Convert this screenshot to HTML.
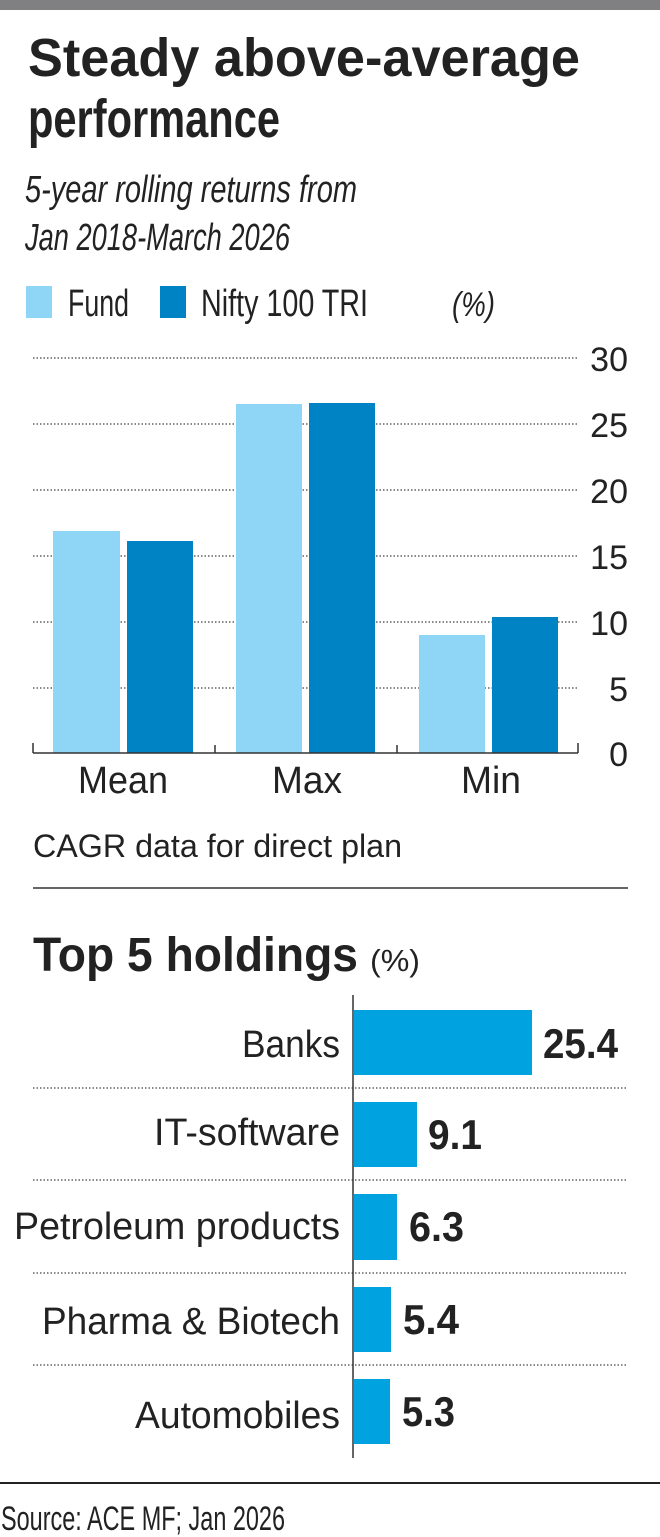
<!DOCTYPE html>
<html><head><meta charset="utf-8"><style>html,body{margin:0;padding:0;background:#fff}svg{display:block}</style></head>
<body>
<svg width="660" height="1537" viewBox="0 0 660 1537" xmlns="http://www.w3.org/2000/svg" font-family="'Liberation Sans Narrow','Liberation Sans',sans-serif" fill="#222">
<rect x="0" y="0" width="660" height="10" fill="#808083"/>
<text x="28" y="76" font-size="54" font-weight="bold" textLength="552" lengthAdjust="spacingAndGlyphs">Steady above-average</text>
<text x="28" y="137" font-size="54" font-weight="bold" textLength="252" lengthAdjust="spacingAndGlyphs">performance</text>
<text x="25" y="202" font-size="38" font-style="italic" textLength="332" lengthAdjust="spacingAndGlyphs">5-year rolling returns from</text>
<text x="25" y="250" font-size="38" font-style="italic" textLength="265" lengthAdjust="spacingAndGlyphs">Jan 2018-March 2026</text>
<rect x="26" y="286" width="26" height="32" fill="#8fd5f5"/>
<text x="68" y="316" font-size="38" textLength="61" lengthAdjust="spacingAndGlyphs">Fund</text>
<rect x="160" y="286" width="26" height="32" fill="#0083c4"/>
<text x="201" y="316" font-size="38" textLength="167" lengthAdjust="spacingAndGlyphs">Nifty 100 TRI</text>
<text x="452" y="316" font-size="34" font-style="italic" textLength="43" lengthAdjust="spacingAndGlyphs">(%)</text>
<g stroke="#444" stroke-width="1.3" stroke-dasharray="1.5 2">
<line x1="33" y1="358" x2="578" y2="358"/><line x1="33" y1="424" x2="578" y2="424"/><line x1="33" y1="490" x2="578" y2="490"/><line x1="33" y1="556" x2="578" y2="556"/><line x1="33" y1="622" x2="578" y2="622"/><line x1="33" y1="688" x2="578" y2="688"/>
</g>
<g font-size="34" text-anchor="end">
<text x="628" y="371">30</text><text x="628" y="437">25</text><text x="628" y="503">20</text><text x="628" y="569">15</text><text x="628" y="635">10</text><text x="628" y="701">5</text><text x="628" y="766">0</text>
</g>
<rect x="53" y="531" width="67" height="222" fill="#8fd5f5"/>
<rect x="127" y="541" width="66" height="212" fill="#0083c4"/>
<rect x="236" y="404" width="66" height="349" fill="#8fd5f5"/>
<rect x="309" y="403" width="66" height="350" fill="#0083c4"/>
<rect x="419" y="635" width="66" height="118" fill="#8fd5f5"/>
<rect x="492" y="617" width="66" height="136" fill="#0083c4"/>
<g stroke="#333" stroke-width="1.5">
<line x1="33" y1="753" x2="578" y2="753"/>
<line x1="33" y1="743" x2="33" y2="753"/><line x1="215" y1="745" x2="215" y2="753"/><line x1="397" y1="745" x2="397" y2="753"/><line x1="578" y1="743" x2="578" y2="753"/>
</g>
<g font-size="38" lengthAdjust="spacingAndGlyphs">
<text x="78" y="793" textLength="90" lengthAdjust="spacingAndGlyphs">Mean</text><text x="272" y="793" textLength="70" lengthAdjust="spacingAndGlyphs">Max</text><text x="461" y="793" textLength="60" lengthAdjust="spacingAndGlyphs">Min</text>
</g>
<text x="33" y="857" font-size="32" textLength="369" lengthAdjust="spacingAndGlyphs">CAGR  data for direct plan</text>
<line x1="33" y1="888" x2="628" y2="888" stroke="#333" stroke-width="1.5"/>
<text x="33" y="971" font-size="48" font-weight="bold" textLength="325" lengthAdjust="spacingAndGlyphs">Top 5 holdings</text>
<text x="370" y="971" font-size="31" textLength="50" lengthAdjust="spacingAndGlyphs">(%)</text>
<g stroke="#444" stroke-width="1.3" stroke-dasharray="1.5 2">
<line x1="33" y1="1088" x2="628" y2="1088"/><line x1="33" y1="1180" x2="628" y2="1180"/><line x1="33" y1="1273" x2="628" y2="1273"/><line x1="33" y1="1365" x2="628" y2="1365"/>
</g>
<line x1="353" y1="995" x2="353" y2="1458" stroke="#333" stroke-width="1.5"/>
<g fill="#00a3e0">
<rect x="354" y="1010" width="178" height="65"/>
<rect x="354" y="1102" width="63" height="65"/>
<rect x="354" y="1194" width="43" height="66"/>
<rect x="354" y="1287" width="37" height="65"/>
<rect x="354" y="1379" width="36" height="65"/>
</g>
<g font-size="38">
<text x="242" y="1057" textLength="98" lengthAdjust="spacingAndGlyphs">Banks</text>
<text x="154" y="1145" textLength="186" lengthAdjust="spacingAndGlyphs">IT-software</text>
<text x="14" y="1239" textLength="326" lengthAdjust="spacingAndGlyphs">Petroleum products</text>
<text x="42" y="1334" textLength="298" lengthAdjust="spacingAndGlyphs">Pharma &amp; Biotech</text>
<text x="135" y="1428" textLength="205" lengthAdjust="spacingAndGlyphs">Automobiles</text>
</g>
<g font-size="42" font-weight="bold">
<text x="543" y="1058" textLength="75" lengthAdjust="spacingAndGlyphs">25.4</text>
<text x="428" y="1149" textLength="54" lengthAdjust="spacingAndGlyphs">9.1</text>
<text x="409" y="1241" textLength="55" lengthAdjust="spacingAndGlyphs">6.3</text>
<text x="403" y="1334" textLength="56" lengthAdjust="spacingAndGlyphs">5.4</text>
<text x="402" y="1426" textLength="53" lengthAdjust="spacingAndGlyphs">5.3</text>
</g>
<line x1="0" y1="1483" x2="660" y2="1483" stroke="#222" stroke-width="2"/>
<text x="1" y="1530" font-size="34" textLength="284" lengthAdjust="spacingAndGlyphs">Source: ACE MF; Jan 2026</text>
</svg>
</body></html>
